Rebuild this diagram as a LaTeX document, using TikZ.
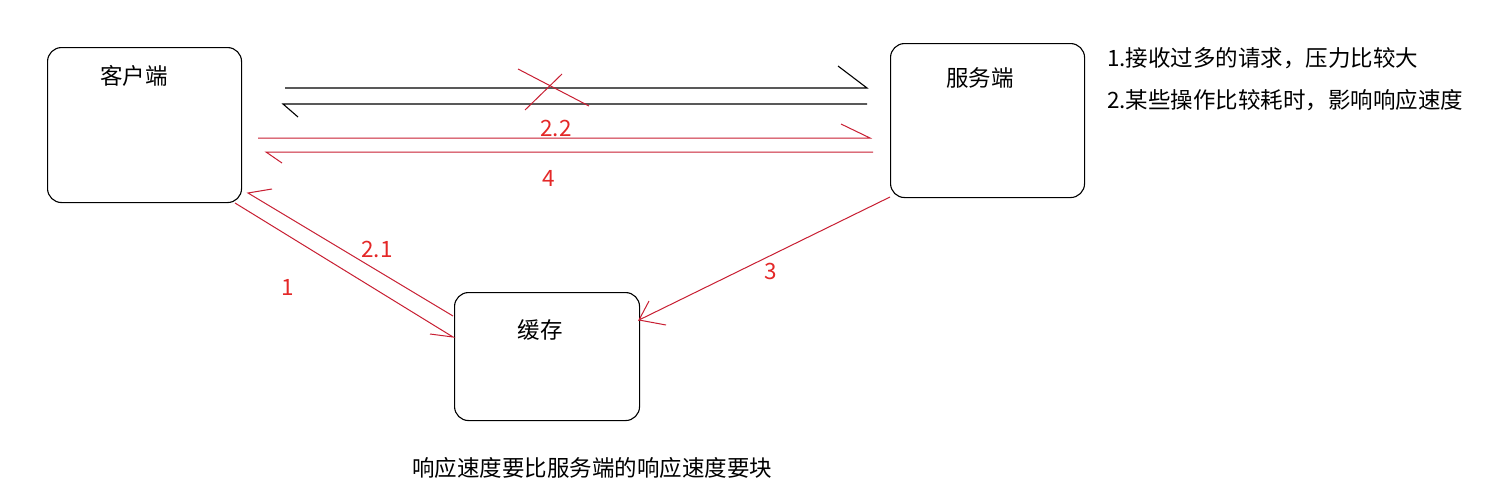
\documentclass[tikz,border=0pt]{standalone}
\usepackage{fontspec}
\setmainfont{Noto Sans CJK SC}
\begin{document}
\begin{tikzpicture}[x=1pt,y=-1pt]
\definecolor{redline}{RGB}{200,30,50}
\definecolor{redtext}{RGB}{228,40,40}
\tikzset{
  box/.style={draw=black,line width=1.1pt,rounded corners=14pt,inner sep=0pt,anchor=north west},
  lbl/.style={font=\fontsize{22.5}{27}\selectfont,inner sep=0pt},
  rlbl/.style={lbl,text=redtext},
  bline/.style={draw=black,line width=1.1pt},
  rline/.style={draw=redline,line width=1pt},
}
\useasboundingbox[fill=white] (0,0) rectangle (1493,490);
% boxes
\node[box,minimum width=194pt,minimum height=155pt] (client) at (47,47) {};
\node[box,minimum width=194pt,minimum height=154pt] (server) at (890,43) {};
\node[box,minimum width=185pt,minimum height=128pt] (cache) at (454,292) {};
\node[lbl] (clientT) at (134,76) {客户端};
\node[lbl] (serverT) at (980,78) {服务端};
\node[lbl] (cacheT) at (540,330) {缓存};
% coordinates
\coordinate (a1) at (285,88);  \coordinate (a2) at (867,88);  \coordinate (a2b) at (838,66);
\coordinate (b1) at (867,104); \coordinate (b2) at (283,104); \coordinate (b2b) at (298,117);
\coordinate (x1) at (518,69);  \coordinate (x2) at (589,106);
\coordinate (x3) at (562,74);  \coordinate (x4) at (525,110);
\coordinate (c1) at (258,138); \coordinate (c2) at (870,138); \coordinate (c2b) at (841,124);
\coordinate (d1) at (873,152); \coordinate (d2) at (266,152); \coordinate (d2b) at (282,163);
\coordinate (e1) at (235,203); \coordinate (e2) at (453,337); \coordinate (e2b) at (430,334);
\coordinate (f1) at (453,316); \coordinate (f2) at (248,193); \coordinate (f2b) at (272,189);
\coordinate (g1) at (890,197); \coordinate (g2) at (639,320); \coordinate (g2b) at (649,301); \coordinate (g2c) at (666,325);
% black connectors (client <-> server)
\draw[bline] (a1) -- (a2) -- (a2b);
\draw[bline] (b1) -- (b2) -- (b2b);
\draw[rline] (x1) -- (x2);
\draw[rline] (x3) -- (x4);
% red connectors
\draw[rline] (c1) -- (c2) -- (c2b);
\draw[rline] (d1) -- (d2) -- (d2b);
\draw[rline] (e1) -- (e2) -- (e2b);
\draw[rline] (f1) -- (f2) -- (f2b);
\draw[rline] (g1) -- (g2) -- (g2b);
\draw[rline] (g2) -- (g2c);
% red labels
\node[rlbl] (l22) at (556,128) {2.2};
\node[rlbl] (l4) at (549,178) {4};
\node[rlbl] (l1) at (288,287) {1};
\node[rlbl] (l21) at (377,249) {2.1};
\node[rlbl] (l3) at (771,271) {3};
% notes
\node[lbl,anchor=west] (n1) at (1107,58) {1.接收过多的请求，压力比较大};
\node[lbl,anchor=west] (n2) at (1107,100) {2.某些操作比较耗时，影响响应速度};
\node[lbl] (n3) at (592,468) {响应速度要比服务端的响应速度要块};
\end{tikzpicture}
\end{document}
